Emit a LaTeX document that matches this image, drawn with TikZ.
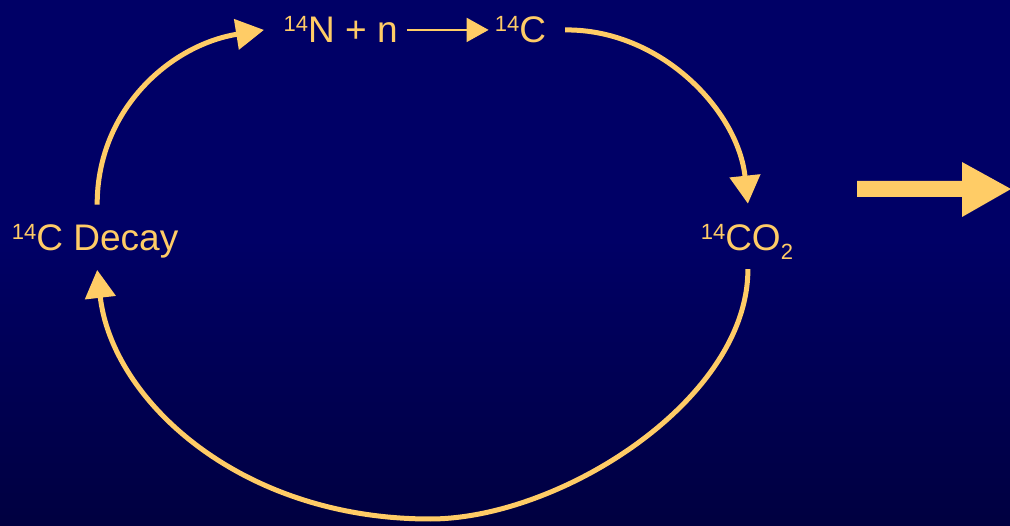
\documentclass[tikz,border=0pt]{standalone}
\usepackage{fontspec}
\setmainfont{Liberation Sans}
\usetikzlibrary{arrows.meta}
\definecolor{gold}{RGB}{255,204,102}
\definecolor{navytop}{RGB}{0,0,102}
\definecolor{navybot}{RGB}{0,0,64}
\newcommand{\isup}[1]{\raisebox{11pt}{\fontsize{22}{22}\selectfont #1}}
\newcommand{\isub}[1]{\raisebox{-9pt}{\fontsize{22}{22}\selectfont #1}}
\tikzset{
  lbl/.style={text=gold, inner sep=0pt, anchor=base west, font=\fontsize{37}{40}\selectfont},
  cyc/.style={draw=gold, line width=5pt, -{Triangle[length=28pt,width=30pt]}},
  thin arrow/.style={draw=gold, line width=2pt, -{Triangle[length=22pt,width=24pt]}},
  bigarrow/.style={fill=gold, draw=none}
}
\begin{document}
\begin{tikzpicture}[x=1pt,y=1pt]
\useasboundingbox (0,0) rectangle (1010,-526);
\fill[navytop] (0,0) rectangle (1010,-240);
\shade[top color=navytop, bottom color=navybot] (0,-240) rectangle (1010,-526);

\node[lbl] (nN) at (283.5,-43) {\isup{14}N + n};
\node[lbl] (nC) at (494.6,-43) {\isup{14}C};
\node[lbl] (decay) at (11.8,-251) {\isup{14}C Decay};
\node[lbl] (co2) at (700.6,-251) {\isup{14}CO\isub{2}};

\draw[thin arrow] ([xshift=9pt]nN.east) -- ([xshift=-6pt]nC.west |- nN.east);

\draw[cyc] ([xshift=2pt,yshift=20pt]decay.north) .. controls (97,-110) and (170,-45) .. ([xshift=-19.5pt]nN.west);
\draw[cyc] ([xshift=19pt]nC.east |- nN.east) .. controls (660,-29) and (738,-110) .. ([xshift=1pt,yshift=21pt]co2.north);
\draw[cyc] ([xshift=1pt,yshift=-9pt]co2.south) .. controls (748,-400) and (560,-519) .. (430,-519)
   .. controls (240,-519) and (112,-400) .. ([xshift=2pt,yshift=-11pt]decay.south);

\fill[bigarrow] (857,-181) -- (962,-181) -- (962,-162) -- (1011,-189) -- (962,-217) -- (962,-197) -- (857,-197) -- cycle;
\end{tikzpicture}
\end{document}
